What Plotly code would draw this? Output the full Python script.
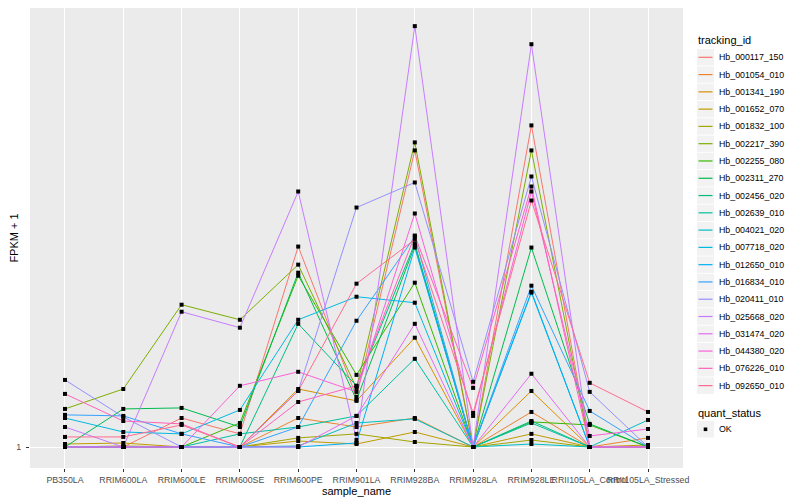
import plotly.graph_objects as go

samples = ["PB350LA", "RRIM600LA", "RRIM600LE", "RRIM600SE", "RRIM600PE", "RRIM901LA",
           "RRIM928BA", "RRIM928LA", "RRIM928LE", "RRII105LA_Control", "RRII105LA_Stressed"]

tracking_ids = ["Hb_000117_150", "Hb_001054_010", "Hb_001341_190", "Hb_001652_070",
                "Hb_001832_100", "Hb_002217_390", "Hb_002255_080", "Hb_002311_270",
                "Hb_002456_020", "Hb_002639_010", "Hb_004021_020", "Hb_007718_020",
                "Hb_012650_010", "Hb_016834_010", "Hb_020411_010", "Hb_025668_020",
                "Hb_031474_020", "Hb_044380_020", "Hb_076226_010", "Hb_092650_010"]

colors = ["#F8766D", "#EA8331", "#D89000", "#C09B00", "#A3A500", "#7CAE00", "#39B600",
          "#00BB4E", "#00BF7D", "#00C1A3", "#00BFC4", "#00BAE0", "#00B0F6", "#35A2FF",
          "#9590FF", "#C77CFF", "#E76BF3", "#FA62DB", "#FF62BC", "#FF6C91"]

quant_status = ["OK"]

# FPKM + 1 per sample, one list per tracking_id
hb_000117_150 = [1, 1, 1.154, 1.067, 2.692, 1.281, 4.329, 1, 4.899, 1, 1]
hb_001054_010 = [1, 1, 1, 1, 1.154, 1.104, 1.154, 1, 1.189, 1, 1.046]
hb_001341_190 = [1, 1, 1, 1, 1.332, 1.256, 1.716, 1, 1.319, 1, 1]
hb_001652_070 = [1.015, 1.020, 1, 1, 1.030, 1.015, 1.077, 1, 1.067, 1, 1.010]
hb_001832_100 = [1, 1.005, 1, 1, 1.046, 1.067, 1.025, 1, 1.035, 1, 1]
hb_002217_390 = [1.207, 1.332, 2.020, 1.875, 2.462, 1.339, 4.504, 1, 4.329, 1, 1]
hb_002255_080 = [1, 1, 1, 1.126, 2.331, 1.428, 2.252, 1, 1.132, 1.115, 1]
hb_002311_270 = [1, 1.207, 1.213, 1.104, 2.366, 1.262, 2.705, 1, 2.679, 1.121, 1]
hb_002456_020 = [1, 1, 1, 1, 1.838, 1.353, 2.733, 1, 1.137, 1, 1]
hb_002639_010 = [1, 1, 1, 1.067, 1.104, 1.166, 1.546, 1, 1.126, 1, 1]
hb_004021_020 = [1, 1, 1, 1, 1.005, 1.126, 1.149, 1, 1.015, 1, 1.143]
hb_007718_020 = [1.154, 1.077, 1.067, 1.201, 1.875, 2.101, 2.040, 1, 2.144, 1, 1]
hb_012650_010 = [1, 1, 1, 1, 1, 1.020, 2.679, 1, 2.154, 1, 1]
hb_016834_010 = [1.172, 1.166, 1.067, 1, 1.104, 1.866, 2.829, 1, 2.219, 1.195, 1]
hb_020411_010 = [1.393, 1.160, 1, 1, 1.319, 3.265, 3.695, 1.380, 3.806, 1.313, 1]
hb_025668_020 = [1.104, 1, 1.951, 1.803, 3.534, 1.035, 8.0, 1, 7.316, 1, 1]
hb_031474_020 = [1, 1, 1, 1, 1, 1.166, 1.838, 1, 1.436, 1, 1]
hb_044380_020 = [1, 1, 1, 1.353, 1.450, 1.313, 3.170, 1.166, 3.534, 1.056, 1.093]
hb_076226_010 = [1.300, 1.137, 1.121, 1, 1.249, 1.353, 2.843, 1.339, 3.622, 1, 1]
hb_092650_010 = [1.051, 1.051, 1.115, 1, 1.319, 2.241, 2.787, 1.183, 3.380, 1.373, 1.189]

series = [hb_000117_150, hb_001054_010, hb_001341_190, hb_001652_070, hb_001832_100,
          hb_002217_390, hb_002255_080, hb_002311_270, hb_002456_020, hb_002639_010,
          hb_004021_020, hb_007718_020, hb_012650_010, hb_016834_010, hb_020411_010,
          hb_025668_020, hb_031474_020, hb_044380_020, hb_076226_010, hb_092650_010]

FONT = "Liberation Sans, Arial, sans-serif"
OFF = 8                      # page margin around the figure div
W, H = 800 - OFF, 500 - OFF
ML, MR, MT, MB = 22, 117, 0, 32
PW, PH = W - ML - MR, H - MT - MB


def px(xs):
    return (xs - OFF - ML) / PW


def py(ys):
    return (H - MB - (ys - OFF)) / PH


fig = go.Figure()
for name, col, vals in zip(tracking_ids, colors, series):
    fig.add_trace(go.Scatter(x=samples, y=vals, mode="lines", name=name,
                             line=dict(color=col, width=1), showlegend=False))

pts_x = [s for vals in series for s in samples]
pts_y = [v for vals in series for v in vals]
fig.add_trace(go.Scatter(x=pts_x, y=pts_y, mode="markers", name=quant_status[0],
                         marker=dict(color="black", symbol="square", size=4),
                         showlegend=False))

# ---- legend drawn as layout items (ggplot-style keys) ----
shapes = []
annotations = []
KX0, KX1 = 697, 714
TX = 717
STEP = 17.28
Y0 = 57.3

annotations.append(dict(x=px(696), y=py(40.5), xref="paper", yref="paper", text="tracking_id",
                        showarrow=False, xanchor="left", yanchor="middle",
                        font=dict(family=FONT, size=11, color="black")))
for i, (name, col) in enumerate(zip(tracking_ids, colors)):
    yc = Y0 + i * STEP
    shapes.append(dict(type="rect", xref="paper", yref="paper",
                       x0=px(KX0), x1=px(KX1), y0=py(yc - 8.2), y1=py(yc + 8.2),
                       fillcolor="#F2F2F2", line=dict(width=0), layer="above"))
    shapes.append(dict(type="line", xref="paper", yref="paper",
                       x0=px(KX0 + 1.5), x1=px(KX1 - 1.5), y0=py(yc), y1=py(yc),
                       line=dict(color=col, width=1.2), layer="above"))
    annotations.append(dict(x=px(TX), y=py(yc), xref="paper", yref="paper", text=name,
                            showarrow=False, xanchor="left", yanchor="middle",
                            font=dict(family=FONT, size=8.8, color="black")))

annotations.append(dict(x=px(696), y=py(412.5), xref="paper", yref="paper", text="quant_status",
                        showarrow=False, xanchor="left", yanchor="middle",
                        font=dict(family=FONT, size=11, color="black")))
yc = 429.3
shapes.append(dict(type="rect", xref="paper", yref="paper",
                   x0=px(KX0), x1=px(KX1), y0=py(yc - 8.2), y1=py(yc + 8.2),
                   fillcolor="#F2F2F2", line=dict(width=0), layer="above"))
shapes.append(dict(type="rect", xref="paper", yref="paper",
                   x0=px(703.7), x1=px(707.3), y0=py(yc - 1.8), y1=py(yc + 1.8),
                   fillcolor="black", line=dict(width=0), layer="above"))
annotations.append(dict(x=px(TX), y=py(yc), xref="paper", yref="paper", text=quant_status[0],
                        showarrow=False, xanchor="left", yanchor="middle",
                        font=dict(family=FONT, size=8.8, color="black")))

fig.update_layout(
    width=W, height=H,
    margin=dict(l=ML, r=MR, t=MT, b=MB, autoexpand=False),
    paper_bgcolor="white", plot_bgcolor="#EBEBEB",
    font=dict(family=FONT, size=9, color="#4D4D4D"),
    xaxis=dict(type="category", range=[-0.6, 10.6], showgrid=True, gridcolor="white",
               gridwidth=1.1, ticks="outside", ticklen=3, tickcolor="#333333", tickangle=0,
               tickfont=dict(family=FONT, size=8.8, color="#4D4D4D"), zeroline=False,
               automargin=False,
               title=dict(text="sample_name", font=dict(family=FONT, size=11, color="black"),
                          standoff=0)),
    yaxis=dict(type="log", range=[-0.04506, 0.942], tickvals=[1], ticktext=["1"],
               showgrid=True, gridcolor="white", gridwidth=1.1, ticks="outside", ticklen=3,
               ticklabelstandoff=3,
               tickcolor="#333333", tickfont=dict(family=FONT, size=8.8, color="#4D4D4D"),
               zeroline=False, automargin=False,
               title=dict(text="FPKM + 1", font=dict(family=FONT, size=11, color="black"),
                          standoff=6)),
    shapes=shapes,
    annotations=annotations,
    showlegend=False,
)

fig.write_html("out.html")
